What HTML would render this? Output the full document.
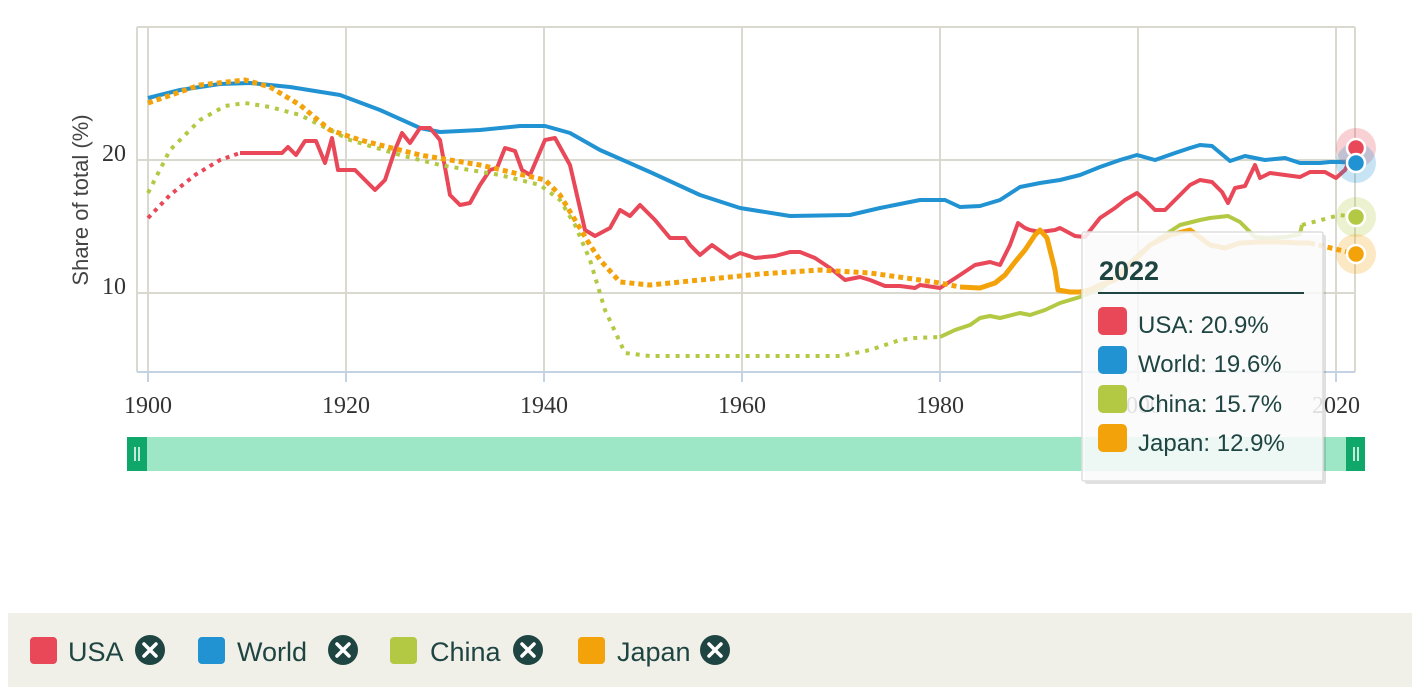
<!DOCTYPE html>
<html><head><meta charset="utf-8"><style>
body{margin:0;background:#fff;width:1412px;height:695px;overflow:hidden;font-family:"Liberation Sans",sans-serif}
svg{position:absolute;left:0;top:0}
</style></head><body>
<svg width="1412" height="695" viewBox="0 0 1412 695">
<g stroke="#d9d9cf" stroke-width="2">
<line x1="137" y1="27" x2="1355" y2="27"/>
<line x1="137" y1="27" x2="137" y2="372"/>
<line x1="1355" y1="27" x2="1355" y2="372"/>
<line x1="137" y1="160" x2="1355" y2="160"/>
<line x1="137" y1="293" x2="1355" y2="293"/>
<line x1="148" y1="27" x2="148" y2="372"/>
<line x1="346" y1="27" x2="346" y2="372"/>
<line x1="544" y1="27" x2="544" y2="372"/>
<line x1="742" y1="27" x2="742" y2="372"/>
<line x1="940" y1="27" x2="940" y2="372"/>
<line x1="1138" y1="27" x2="1138" y2="372"/>
<line x1="1336" y1="27" x2="1336" y2="372"/>
</g>
<line x1="137" y1="372" x2="1355" y2="372" stroke="#c4d3e3" stroke-width="2"/>
<g stroke="#c4d3e3" stroke-width="2">
<line x1="148" y1="372" x2="148" y2="382"/><line x1="346" y1="372" x2="346" y2="382"/><line x1="544" y1="372" x2="544" y2="382"/><line x1="742" y1="372" x2="742" y2="382"/><line x1="940" y1="372" x2="940" y2="382"/><line x1="1138" y1="372" x2="1138" y2="382"/><line x1="1336" y1="372" x2="1336" y2="382"/>
</g>
<g font-family="Liberation Serif, serif" font-size="24" fill="#333" text-anchor="middle">
<text x="148" y="413">1900</text><text x="346" y="413">1920</text><text x="544" y="413">1940</text><text x="742" y="413">1960</text><text x="940" y="413">1980</text><text x="1138" y="413">2000</text><text x="1336" y="413">2020</text>
<text x="114" y="161">20</text><text x="114" y="294">10</text>
</g>
<text transform="translate(88,200) rotate(-90)" font-size="22" fill="#444" text-anchor="middle">Share of total (%)</text>

<g fill="none" stroke-linejoin="round" stroke-linecap="butt">
<polyline stroke="#2193d3" stroke-width="4" points="148,98 180,90 220,84 250,83 290,87 340,95 380,110 420,128 440,132 480,130 520,126 545,126 570,133 600,150 650,172 700,195 740,208 790,216 850,215 880,208 920,200 945,200 960,207 980,206 1000,200 1020,187 1040,183 1060,180 1080,175 1100,167 1120,160 1137,155 1155,160 1175,153 1190,148 1200,145 1212,146 1230,161 1245,156 1265,160 1285,158 1300,163 1320,163 1330,162 1340,162 1356,163"/>
<polyline stroke="#e84858" stroke-width="4" stroke-dasharray="4 5" points="148,218 170,195 195,175 220,160 240,153"/>
<polyline stroke="#e84858" stroke-width="4" points="240,153 270,153 282,153 288,147 296,155 305,141 316,141 325,163 332,138 338,170 355,170 375,190 385,180 395,150 402,133 410,143 420,128 430,128 440,140 450,195 460,205 470,203 480,185 490,170 497,168 505,148 515,151 522,170 530,175 545,140 555,138 570,165 585,230 595,236 610,228 620,210 630,216 640,205 655,220 670,238 685,238 690,245 700,255 712,245 730,258 740,253 755,258 775,256 790,252 800,252 815,258 830,268 845,280 860,277 870,280 885,286 900,286 915,288 920,285 940,288 960,275 975,265 990,262 1000,265 1010,245 1018,223 1025,228 1030,230 1040,232 1055,230 1060,228 1075,236 1085,237 1100,218 1115,208 1125,200 1137,193 1145,200 1155,210 1165,210 1175,200 1190,185 1200,180 1212,182 1222,192 1228,203 1235,188 1245,186 1255,165 1260,178 1270,173 1285,175 1300,177 1310,172 1325,172 1336,178 1345,170 1356,148"/>
<polyline stroke="#b3c843" stroke-width="4" stroke-dasharray="4 6" points="148,193 170,150 200,120 225,106 245,103 270,107 300,115 330,130 350,140 400,155 440,165 500,175 540,185 560,200 575,225 590,260 605,310 625,353 650,356 840,356 870,350 900,340 915,338 940,337"/>
<polyline stroke="#b3c843" stroke-width="4" points="940,337 955,330 970,325 980,318 990,316 1000,318 1020,313 1030,315 1045,310 1060,303 1080,297 1090,293 1100,290 1120,272 1140,253 1160,238 1180,225 1200,220 1210,218 1228,216 1240,222 1255,237 1265,238 1285,237 1300,234 1302,225"/>
<polyline stroke="#b3c843" stroke-width="4" stroke-dasharray="4 6" points="1302,225 1340,215 1356,217"/>
<polyline stroke="#f4a20a" stroke-width="5" stroke-dasharray="5 4" points="148,103 200,85 245,80 270,87 300,105 330,130 360,140 420,155 480,165 545,180 560,195 575,220 590,245 600,260 620,282 650,285 700,280 760,274 820,270 870,273 920,280 940,283 960,287"/>
<polyline stroke="#f4a20a" stroke-width="5" points="960,287 980,288 995,283 1005,275 1015,262 1025,250 1035,235 1040,230 1047,238 1055,270 1058,290 1070,292 1080,292 1090,290 1100,285 1115,280 1130,265 1150,245 1170,235 1190,230 1210,245 1225,248 1240,243 1260,242 1280,242 1300,243 1310,243"/>
<polyline stroke="#f4a20a" stroke-width="5" stroke-dasharray="5 4" points="1310,243 1356,254"/>
</g>
<circle cx="1356" cy="148" r="20" fill="#e84858" opacity="0.25"/>
<circle cx="1356" cy="163" r="20" fill="#2193d3" opacity="0.25"/>
<circle cx="1356" cy="217" r="20" fill="#b3c843" opacity="0.25"/>
<circle cx="1356" cy="254" r="20" fill="#f4a20a" opacity="0.25"/>
<g stroke="#fff" stroke-width="2.5">
<circle cx="1356" cy="148" r="9" fill="#e84858"/>
<circle cx="1356" cy="163" r="9" fill="#2193d3"/>
<circle cx="1356" cy="217" r="9" fill="#b3c843"/>
<circle cx="1356" cy="254" r="9" fill="#f4a20a"/>
</g>
<rect x="127" y="437" width="1238" height="34" fill="#9de6c6"/>
<rect x="127" y="437" width="20" height="34" fill="#10a86a"/>
<rect x="1346" y="437" width="19" height="34" fill="#10a86a"/>
<g stroke="#fff" stroke-width="1.5"><line x1="135" y1="447" x2="135" y2="461"/><line x1="139" y1="447" x2="139" y2="461"/><line x1="1354" y1="447" x2="1354" y2="461"/><line x1="1358" y1="447" x2="1358" y2="461"/></g>
<rect x="1085" y="235" width="241" height="249" fill="#000" opacity="0.12" rx="2"/>
<rect x="1082" y="232" width="241" height="249" fill="#fff" fill-opacity="0.85" stroke="#ddd" stroke-width="1.5" rx="2"/>
<text x="1099" y="280" font-size="27" font-weight="bold" fill="#1f4542">2022</text>
<line x1="1098" y1="293" x2="1304" y2="293" stroke="#1f4542" stroke-width="2"/>
<g font-size="24" fill="#1f4542">
<rect x="1098" y="307" width="29" height="28" rx="5" fill="#e84858"/><text x="1138" y="333">USA: 20.9%</text>
<rect x="1098" y="346" width="29" height="28" rx="5" fill="#2193d3"/><text x="1138" y="372">World: 19.6%</text>
<rect x="1098" y="385" width="29" height="28" rx="5" fill="#b3c843"/><text x="1138" y="412">China: 15.7%</text>
<rect x="1098" y="424" width="29" height="28" rx="5" fill="#f4a20a"/><text x="1138" y="451">Japan: 12.9%</text>
</g>
<rect x="8" y="613" width="1404" height="74" fill="#f0efe8"/>
<g font-size="27" fill="#1f4542">
<rect x="30" y="637" width="27" height="27" rx="4" fill="#e84858"/><text x="68" y="661">USA</text>
<rect x="198" y="637" width="27" height="27" rx="4" fill="#2193d3"/><text x="237" y="661">World</text>
<rect x="390" y="637" width="27" height="27" rx="4" fill="#b3c843"/><text x="430" y="661">China</text>
<rect x="578" y="637" width="27" height="27" rx="4" fill="#f4a20a"/><text x="617" y="661">Japan</text>
</g>
<g>
<circle cx="150" cy="650" r="15" fill="#1f4542"/><circle cx="343" cy="650" r="15" fill="#1f4542"/><circle cx="528" cy="650" r="15" fill="#1f4542"/><circle cx="715" cy="650" r="15" fill="#1f4542"/>
<g stroke="#fff" stroke-width="3.5" stroke-linecap="round">
<path d="M144 644 L156 656 M156 644 L144 656"/><path d="M337 644 L349 656 M349 644 L337 656"/><path d="M522 644 L534 656 M534 644 L522 656"/><path d="M709 644 L721 656 M721 644 L709 656"/>
</g></g>
</svg>
</body></html>
